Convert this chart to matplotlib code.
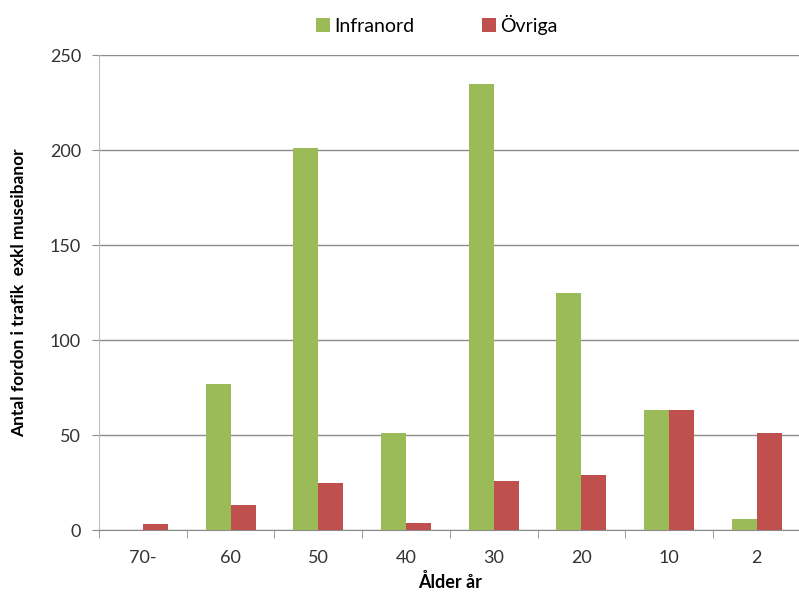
import matplotlib.pyplot as plt
import numpy as np

plt.rcParams['font.family'] = ['Lato', 'DejaVu Sans']

kategorier = ['70-', '60', '50', '40', '30', '20', '10', '2']
infranord = [0, 77, 201, 51, 235, 125, 63, 6]
ovriga = [3, 13, 25, 4, 26, 29, 63, 51]

gron = '#9bbb59'
rod = '#c0504d'

fig = plt.figure(figsize=(7.99, 5.99), dpi=100)
ax = fig.add_axes([0.124, 0.115, 0.878, 0.793])

x = np.arange(len(kategorier))
w = 0.286
ax.bar(x - w / 2, infranord, w, color=gron, label='Infranord', zorder=3)
ax.bar(x + w / 2, ovriga, w, color=rod, label='Övriga', zorder=3)

ax.set_xlim(-0.5, len(kategorier) - 0.5)
ax.set_ylim(0, 250)
ax.set_yticks(range(0, 251, 50))
ax.yaxis.grid(True, color='#8c8c8c', linewidth=1, zorder=0)

ax.set_xticks(x)
ax.set_xticklabels(kategorier, fontsize=13, color='#333333')
ax.set_xticks(np.arange(-0.5, len(kategorier)), minor=True)
ax.tick_params(axis='x', which='major', length=0, pad=14)
ax.tick_params(axis='x', which='minor', length=6, color='#8c8c8c', direction='out')
ax.tick_params(axis='y', length=5, color='#8c8c8c', labelsize=13, labelcolor='#333333', pad=8)

for s in ['top', 'right']:
    ax.spines[s].set_visible(False)
ax.spines['left'].set_color('#bfbfbf')
ax.spines['bottom'].set_color('#8c8c8c')

ax.set_xlabel('Ålder år', fontsize=13, fontweight='bold', labelpad=5)
ax.set_ylabel('Antal fordon i trafik  exkl museibanor', fontsize=12.5, fontweight='bold', labelpad=16)

fig.legend(loc='upper center', bbox_to_anchor=(0.547, 1.005), ncol=2, frameon=False,
           fontsize=14, handlelength=0.72, handleheight=0.72, handletextpad=0.2, columnspacing=3.5)

plt.savefig('out.png', dpi=100)
